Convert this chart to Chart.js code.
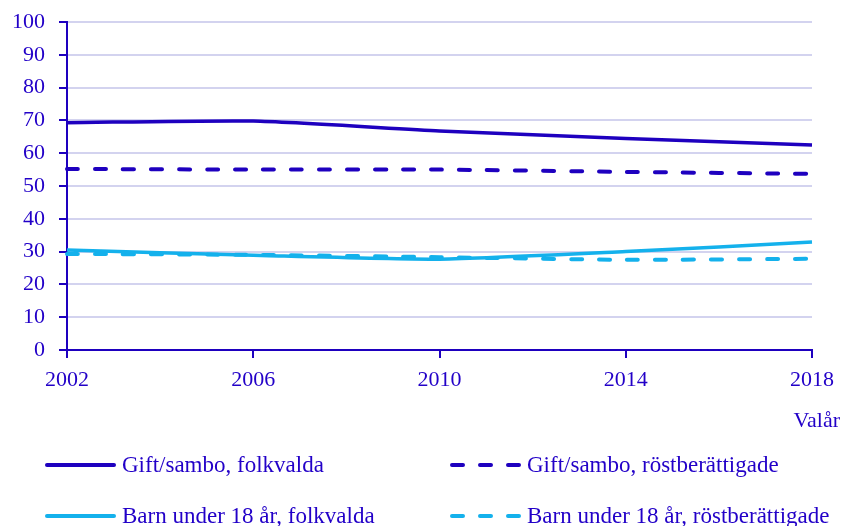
<!DOCTYPE html>
<html>
<head>
<meta charset="utf-8">
<script src="https://cdn.jsdelivr.net/npm/chart.js@4.4.1/dist/chart.umd.min.js"></script>
<style>
html,body{margin:0;padding:0;background:#fff;}
#wrap{width:844px;height:526px;position:relative;}
</style>
</head>
<body>
<div id="wrap"><canvas id="c" width="844" height="526"></canvas></div>
<script>
const years = ['2002', '2006', '2010', '2014', '2018'];
const giftFolkvalda = [69.3, 69.8, 66.8, 64.5, 62.5];
const giftRost = [55.2, 55.0, 55.0, 54.3, 53.7];
const barnFolkvalda = [30.5, 28.9, 27.7, 30.0, 32.9];
const barnRost = [29.3, 29.0, 28.3, 27.5, 27.8];
const seriesNames = ['Gift/sambo, folkvalda', 'Gift/sambo, röstberättigade', 'Barn under 18 år, folkvalda', 'Barn under 18 år, röstberättigade'];
const xTitle = 'Valår';

const DARK = '#1e00bf';
const LIGHT = '#14b1ec';
const TEXT = '#2200c8';
const GRID = '#d3d3ef';
const FONT = '"Liberation Serif", "Times New Roman", serif';

const legendPlugin = {
  id: 'customLegend',
  afterDraw(chart) {
    const ctx = chart.ctx;
    ctx.save();
    ctx.font = '22px ' + FONT;
    ctx.fillStyle = TEXT;
    ctx.textAlign = 'right';
    ctx.textBaseline = 'alphabetic';
    ctx.fillText(xTitle, 840, 427);
    const pos = [[45, 465], [450, 465], [45, 516], [450, 516]];
    chart.data.datasets.forEach((ds, i) => {
      const [x, y] = pos[i];
      ctx.beginPath();
      ctx.strokeStyle = ds.borderColor;
      ctx.lineWidth = 4;
      ctx.lineCap = 'round';
      ctx.setLineDash(ds.borderDash && ds.borderDash.length ? [11, 17] : []);
      ctx.moveTo(x + 2, y);
      ctx.lineTo(x + 69, y);
      ctx.stroke();
      ctx.setLineDash([]);
      ctx.font = '23px ' + FONT;
      ctx.fillStyle = TEXT;
      ctx.textAlign = 'left';
      ctx.textBaseline = 'middle';
      ctx.fillText(ds.label, x + 77, y + 1);
    });
    ctx.restore();
  }
};

new Chart(document.getElementById('c'), {
  type: 'line',
  data: {
    labels: years,
    datasets: [
      { label: seriesNames[0], data: giftFolkvalda, borderColor: DARK, borderWidth: 3.5, pointRadius: 0, tension: 0.2 },
      { label: seriesNames[1], data: giftRost, borderColor: DARK, borderWidth: 4, borderDash: [11, 17], borderCapStyle: 'round', pointRadius: 0, tension: 0.2 },
      { label: seriesNames[2], data: barnFolkvalda, borderColor: LIGHT, borderWidth: 3.5, pointRadius: 0, tension: 0.2 },
      { label: seriesNames[3], data: barnRost, borderColor: LIGHT, borderWidth: 4, borderDash: [11, 17], borderCapStyle: 'round', pointRadius: 0, tension: 0.2 }
    ]
  },
  options: {
    responsive: false,
    animation: false,
    events: [],
    layout: { padding: { top: 22, right: 32, left: 0, bottom: 0 } },
    plugins: { legend: { display: false }, tooltip: { enabled: false } },
    scales: {
      x: {
        type: 'category',
        offset: false,
        grid: { drawOnChartArea: false, drawTicks: true, tickLength: 8, color: DARK, lineWidth: 2 },
        border: { color: DARK, width: 2 },
        ticks: { color: TEXT, font: { family: FONT, size: 22 }, padding: 9, maxRotation: 0 },
        afterFit(s) { s.height = 176; s.paddingLeft = 0; s.paddingRight = 0; }
      },
      y: {
        min: 0, max: 100,
        ticks: { stepSize: 10, color: TEXT, font: { family: FONT, size: 22 }, padding: 14 },
        grid: { color: GRID, lineWidth: 2, tickColor: DARK, tickLength: 8 },
        border: { color: DARK, width: 2 },
        afterFit(s) { s.width = 67; s.paddingTop = 0; s.paddingBottom = 0; }
      }
    }
  },
  plugins: [legendPlugin]
});
</script>
</body>
</html>
